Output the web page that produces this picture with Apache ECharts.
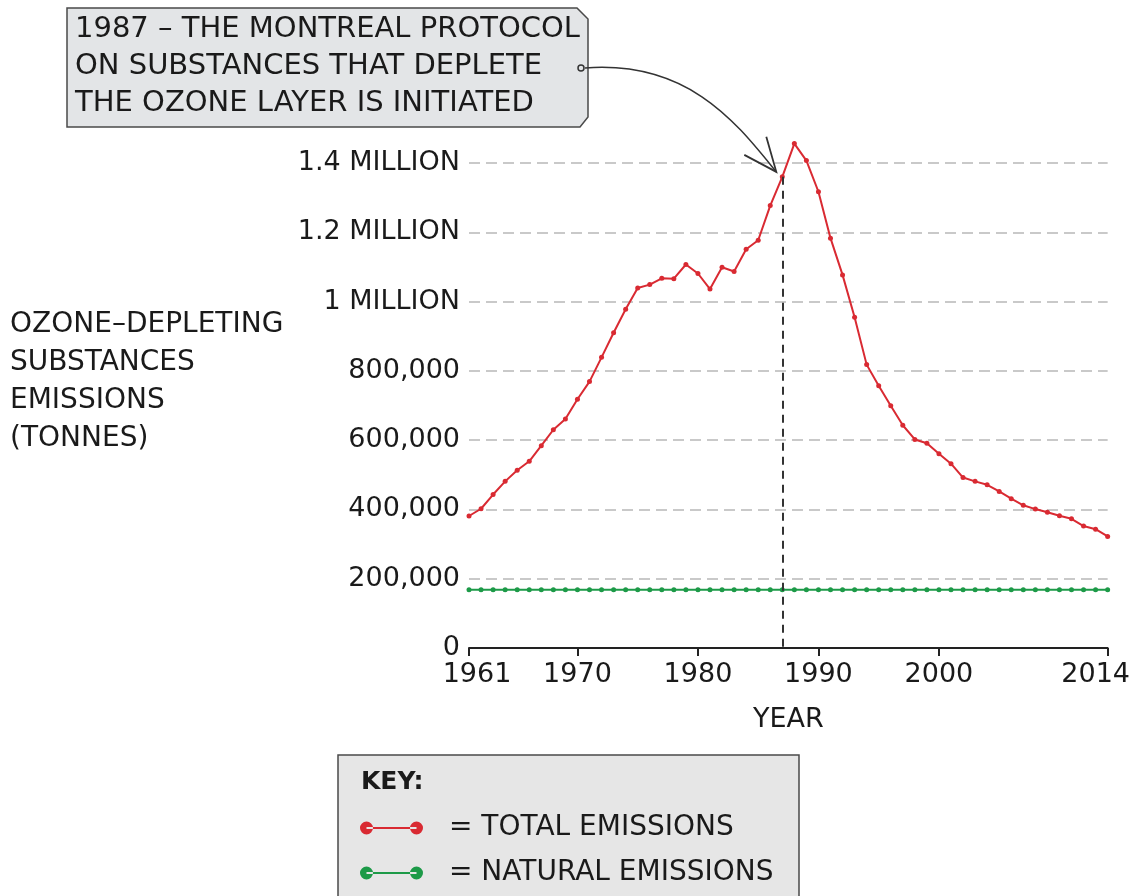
<!DOCTYPE html>
<html><head><meta charset="utf-8">
<script src="https://cdn.jsdelivr.net/npm/echarts@6/dist/echarts.min.js"></script>
<style>html,body{margin:0;padding:0;background:#fff}#c{width:1133px;height:896px}</style>
</head><body><div id="c"></div>
<script>
const years = ['1961','1962','1963','1964','1965','1966','1967','1968','1969','1970',
  '1971','1972','1973','1974','1975','1976','1977','1978','1979','1980',
  '1981','1982','1983','1984','1985','1986','1987','1988','1989','1990',
  '1991','1992','1993','1994','1995','1996','1997','1998','1999','2000',
  '2001','2002','2003','2004','2005','2006','2007','2008','2009','2010',
  '2011','2012','2013','2014'];
const totalEmissions = [381000,402000,443000,481000,513000,539000,584000,630000,661000,718000,
  769000,839000,910000,978000,1039000,1049000,1067000,1066000,1107000,1081000,
  1036000,1099000,1087000,1151000,1177000,1277000,1360000,1456000,1407000,1317000,
  1183000,1077000,955000,818000,757000,699000,643000,602000,591000,561000,
  532000,492000,481000,471000,452000,431000,412000,401000,392000,382000,
  373000,352000,343000,322000];
const naturalEmissions = [168000,168000,168000,168000,168000,168000,168000,168000,168000,168000,
  168000,168000,168000,168000,168000,168000,168000,168000,168000,168000,
  168000,168000,168000,168000,168000,168000,168000,168000,168000,168000,
  168000,168000,168000,168000,168000,168000,168000,168000,168000,168000,
  168000,168000,168000,168000,168000,168000,168000,168000,168000,168000,
  168000,168000,168000,168000];
const labeledYears = ['1961','1970','1980','1990','2000','2014'];
const yTickLabels = ['0','200,000','400,000','600,000','800,000','1 MILLION','1.2 MILLION','1.4 MILLION'];
const yStep = 200000;
const eventYear = '1987';
const seriesNames = ['TOTAL EMISSIONS','NATURAL EMISSIONS'];
const annotationLines = ['1987 – THE MONTREAL PROTOCOL','ON SUBSTANCES THAT DEPLETE','THE OZONE LAYER IS INITIATED'];
const yAxisTitle = ['OZONE–DEPLETING','SUBSTANCES','EMISSIONS','(TONNES)'];

const FONT = 'DejaVu Sans';
const INK = '#1a1a1a';
const RED = '#d92a32';
const GREEN = '#1d9a48';
const chart = echarts.init(document.getElementById('c'), null, {renderer:'canvas'});

const iconPath = 'path://M0,6.5A6.5,6.5 0 1,0 13,6.5A6.5,6.5 0 1,0 0,6.5Z M6.5,5.5L56.5,5.5L56.5,7.5L6.5,7.5Z M50,6.5A6.5,6.5 0 1,0 63,6.5A6.5,6.5 0 1,0 50,6.5Z';

const option = {
  animation: false,
  backgroundColor: '#ffffff',
  grid: {left: 469, right: 24, top: 163, bottom: 248, containLabel: false},
  xAxis: {
    type: 'category', data: years, boundaryGap: false,
    name: 'YEAR', nameLocation: 'middle', nameGap: 58,
    nameTextStyle: {fontFamily: FONT, fontSize: 27, color: INK},
    axisLine: {show: true, lineStyle: {color: '#222', width: 2}},
    axisTick: {show: true, length: 8, lineStyle: {color: '#222', width: 2},
      interval: (i, v) => labeledYears.indexOf(v) >= 0},
    axisLabel: {
      interval: (i, v) => labeledYears.indexOf(v) >= 0,
      fontFamily: FONT, fontSize: 27, color: INK, margin: 13,
      formatter: v => v === labeledYears[0] ? '{a|' + v + '}' : (v === labeledYears[labeledYears.length-1] ? '{b|' + v + '}' : v),
      rich: {
        a: {fontFamily: FONT, fontSize: 27, color: INK, padding: [0,0,0,16]},
        b: {fontFamily: FONT, fontSize: 27, color: INK, padding: [0,24,0,0]}
      }
    },
    splitLine: {show: false}
  },
  yAxis: {
    type: 'value', min: 0, max: 1400000, interval: yStep,
    axisLine: {show: false}, axisTick: {show: false},
    axisLabel: {fontFamily: FONT, fontSize: 27, color: INK, margin: 9,
      formatter: v => yTickLabels[Math.round(v / yStep)]},
    splitLine: {show: true, lineStyle: {color: '#c9c9c9', width: 2, type: [11, 6]}}
  },
  legend: {
    orient: 'vertical', left: 360, top: 813, height: 90, padding: 0, z: 10,
    itemWidth: 63, itemHeight: 13, itemGap: 15,
    icon: iconPath,
    data: seriesNames,
    formatter: '= {name}',
    textStyle: {fontFamily: FONT, fontSize: 28, color: INK, lineHeight: 30, padding: [0,0,0,21]},
    itemStyle: {borderWidth: 0}
  },
  series: [
    {
      name: seriesNames[0], type: 'line', data: totalEmissions, clip: false, z: 4,
      symbol: 'circle', symbolSize: 5, showSymbol: true,
      itemStyle: {color: RED}, lineStyle: {color: RED, width: 2},
      markLine: {
        silent: true, symbol: ['none','none'], label: {show: false},
        lineStyle: {color: '#333', width: 2, type: [8, 6]},
        data: [[{coord: [eventYear, totalEmissions[years.indexOf(eventYear)]]}, {coord: [eventYear, 0]}]]
      }
    },
    {
      name: seriesNames[1], type: 'line', data: naturalEmissions, clip: false, z: 3,
      symbol: 'circle', symbolSize: 5, showSymbol: true,
      itemStyle: {color: GREEN}, lineStyle: {color: GREEN, width: 2}
    }
  ]
};
chart.setOption(option);

const pt = chart.convertToPixel({gridIndex: 0}, [years.indexOf(eventYear), totalEmissions[years.indexOf(eventYear)]]);
const tip = [pt[0] - 6, pt[1] - 5];

chart.setOption({
  graphic: [
    {type: 'polygon', z: 1, shape: {points: [[67,8],[577,8],[588,19],[588,117],[580,127],[67,127]]},
      style: {fill: '#e3e5e7', stroke: '#4a4a4a', lineWidth: 1.5}},
    {type: 'text', z: 2, left: 75, top: 11,
      style: {text: annotationLines.join('\n'), font: '29px "' + FONT + '"', fill: INK, lineHeight: 37}},
    {type: 'bezierCurve', z: 2,
      shape: {x1: 585, y1: 68, cpx1: 690, cpy1: 60, cpx2: 738, cpy2: 125, x2: tip[0], y2: tip[1]},
      style: {stroke: '#333', lineWidth: 1.5, fill: null}},
    {type: 'circle', z: 3, shape: {cx: 581, cy: 68, r: 3}, style: {fill: '#e3e5e7', stroke: '#333', lineWidth: 1.5}},
    {type: 'polyline', z: 3, shape: {points: [[tip[0]-32, tip[1]-17], tip, [tip[0]-10, tip[1]-35]]},
      style: {stroke: '#333', lineWidth: 1.8, fill: null}},
    {type: 'text', z: 2, left: 10, top: 306,
      style: {text: yAxisTitle.join('\n'), font: '28px "' + FONT + '"', fill: INK, lineHeight: 38}},
    {type: 'rect', z: 1, shape: {x: 338, y: 755, width: 461, height: 160},
      style: {fill: '#e6e6e6', stroke: '#4a4a4a', lineWidth: 1.5}},
    {type: 'text', z: 2, left: 361, top: 770,
      style: {text: 'KEY:', font: 'bold 25px "' + FONT + '"', fill: INK}}
  ]
});
</script>
</body></html>
